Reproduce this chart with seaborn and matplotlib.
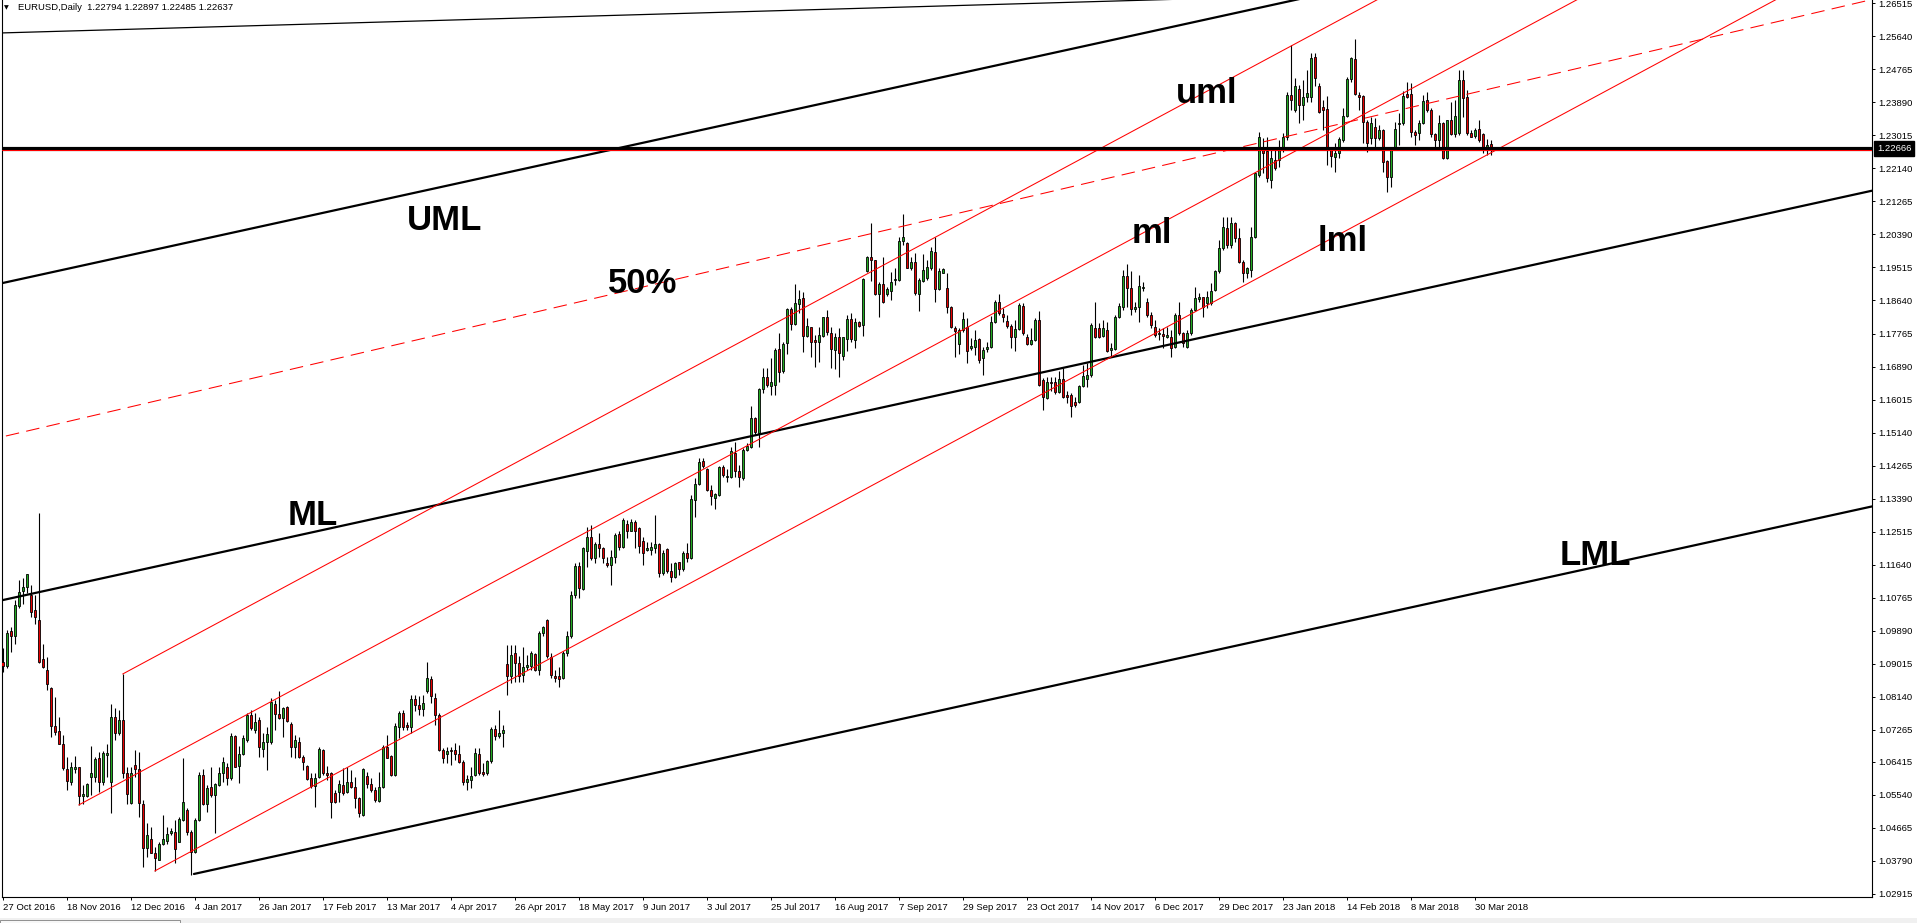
import numpy as np
import pandas as pd
import matplotlib
matplotlib.use("Agg")
import matplotlib.pyplot as plt
from matplotlib.patches import Rectangle
import seaborn as sns

# ---------------- data (EURUSD daily, bar 0 = 27 Oct 2016) ----------------
opens = [
    1.0907, 1.0896, 1.0988, 1.0976, 1.1054, 1.1095, 1.1104, 1.1083, 1.1044, 1.1017,
    1.0914, 1.0886, 1.0836, 1.0737, 1.0723, 1.0688, 1.0622, 1.0589, 1.0623, 1.0627,
    1.0551, 1.0551, 1.0602, 1.0602, 1.0651, 1.0589, 1.0659, 1.0589, 1.0761, 1.0717,
    1.0752, 1.0611, 1.0533, 1.0632, 1.0623, 1.0531, 1.0412, 1.0436, 1.0401, 1.0381,
    1.0424, 1.0433, 1.0452, 1.0456, 1.0430, 1.0487, 1.0514, 1.0455, 1.0403, 1.0487,
    1.0607, 1.0530, 1.0576, 1.0554, 1.0580, 1.0611, 1.0629, 1.0600, 1.0711, 1.0631,
    1.0661, 1.0699, 1.0765, 1.0726, 1.0752, 1.0676, 1.0695, 1.0695, 1.0795, 1.0767,
    1.0757, 1.0788, 1.0743, 1.0680, 1.0695, 1.0655, 1.0631, 1.0598, 1.0577, 1.0602,
    1.0673, 1.0611, 1.0611, 1.0558, 1.0561, 1.0580, 1.0561, 1.0587, 1.0576, 1.0545,
    1.0501, 1.0604, 1.0582, 1.0567, 1.0539, 1.0574, 1.0682, 1.0656, 1.0607, 1.0735,
    1.0770, 1.0740, 1.0735, 1.0808, 1.0793, 1.0782, 1.0828, 1.0861, 1.0810, 1.0766,
    1.0673, 1.0662, 1.0673, 1.0673, 1.0662, 1.0642, 1.0589, 1.0594, 1.0607, 1.0662,
    1.0614, 1.0612, 1.0644, 1.0728, 1.0710, 1.0717, 1.0901, 1.0868, 1.0929, 1.0903,
    1.0872, 1.0894, 1.0896, 1.0927, 1.0885, 1.0984, 1.1018, 1.0919, 1.0869, 1.0869,
    1.0863, 1.0929, 1.0974, 1.1084, 1.1161, 1.1100, 1.1201, 1.1238, 1.1181, 1.1218,
    1.1209, 1.1168, 1.1163, 1.1185, 1.1245, 1.1212, 1.1271, 1.1254, 1.1276, 1.1262,
    1.1227, 1.1203, 1.1203, 1.1207, 1.1218, 1.1141, 1.1205, 1.1146, 1.1130, 1.1170,
    1.1152, 1.1196, 1.1181, 1.1336, 1.1378, 1.1440, 1.1417, 1.1362, 1.1340, 1.1349,
    1.1422, 1.1396, 1.1397, 1.1461, 1.1411, 1.1393, 1.1468, 1.1477, 1.1552, 1.1512,
    1.1629, 1.1660, 1.1638, 1.1640, 1.1736, 1.1676, 1.1751, 1.1842, 1.1801, 1.1854,
    1.1870, 1.1771, 1.1793, 1.1759, 1.1755, 1.1771, 1.1819, 1.1777, 1.1733, 1.1766,
    1.1718, 1.1762, 1.1814, 1.1758, 1.1806, 1.1799, 1.1942, 1.1980, 1.1970, 1.1880,
    1.1907, 1.1880, 1.1890, 1.1917, 1.1917, 1.2022, 1.2015, 1.1951, 1.1965, 1.1881,
    1.1916, 1.1923, 1.1949, 1.1992, 1.1894, 1.1938, 1.1896, 1.1848, 1.1792, 1.1748,
    1.1786, 1.1795, 1.1737, 1.1742, 1.1761, 1.1711, 1.1736, 1.1740, 1.1808, 1.1861,
    1.1828, 1.1810, 1.1796, 1.1766, 1.1788, 1.1849, 1.1766, 1.1748, 1.1759, 1.1812,
    1.1653, 1.1605, 1.1649, 1.1647, 1.1621, 1.1656, 1.1614, 1.1614, 1.1596, 1.1594,
    1.1638, 1.1655, 1.1667, 1.1792, 1.1790, 1.1771, 1.1786, 1.1733, 1.1736, 1.1819,
    1.1848, 1.1929, 1.1896, 1.1841, 1.1846, 1.1896, 1.1861, 1.1826, 1.1795, 1.1775,
    1.1775, 1.1768, 1.1768, 1.1742, 1.1826, 1.1777, 1.1742, 1.1777, 1.1839, 1.1867,
    1.1872, 1.1857, 1.1857, 1.1892, 1.1941, 1.2002, 1.2055, 1.2011, 1.2069, 1.2029,
    1.1967, 1.1936, 1.1945, 1.2031, 1.2197, 1.2267, 1.2261, 1.2183, 1.2236, 1.2236,
    1.2263, 1.2296, 1.2409, 1.2369, 1.2424, 1.2382, 1.2404, 1.2404, 1.2510, 1.2432,
    1.2376, 1.2371, 1.2263, 1.2245, 1.2254, 1.2289, 1.2353, 1.2450, 1.2503, 1.2409,
    1.2406, 1.2336, 1.2294, 1.2323, 1.2294, 1.2316, 1.2234, 1.2192, 1.2267, 1.2331,
    1.2334, 1.2411, 1.2411, 1.2311, 1.2309, 1.2333, 1.2395, 1.2369, 1.2304, 1.2289,
    1.2333, 1.2241, 1.2341, 1.2305, 1.2307, 1.2448, 1.2402, 1.2307, 1.2300, 1.2318,
    1.2304, 1.2270, 1.22794,
]
highs = [
    1.0942, 1.0991, 1.1000, 1.1070, 1.1123, 1.1128, 1.1140, 1.1110, 1.1083, 1.1300,
    1.0955, 1.0920, 1.0841, 1.0814, 1.0761, 1.0713, 1.0655, 1.0642, 1.0657, 1.0629,
    1.0580, 1.0585, 1.0683, 1.0655, 1.0668, 1.0670, 1.0690, 1.0796, 1.0783, 1.0779,
    1.0874, 1.0629, 1.0629, 1.0673, 1.0668, 1.0540, 1.0479, 1.0470, 1.0417, 1.0430,
    1.0501, 1.0470, 1.0465, 1.0487, 1.0496, 1.0651, 1.0518, 1.0461, 1.0492, 1.0615,
    1.0622, 1.0580, 1.0629, 1.0585, 1.0629, 1.0655, 1.0638, 1.0717, 1.0713, 1.0683,
    1.0713, 1.0770, 1.0779, 1.0770, 1.0761, 1.0717, 1.0735, 1.0812, 1.0805, 1.0830,
    1.0788, 1.0789, 1.0748, 1.0713, 1.0708, 1.0660, 1.0633, 1.0611, 1.0611, 1.0682,
    1.0675, 1.0630, 1.0615, 1.0567, 1.0593, 1.0624, 1.0629, 1.0620, 1.0602, 1.0549,
    1.0624, 1.0615, 1.0598, 1.0576, 1.0615, 1.0686, 1.0713, 1.0660, 1.0744, 1.0775,
    1.0779, 1.0748, 1.0819, 1.0819, 1.0815, 1.0819, 1.0905, 1.0868, 1.0825, 1.0770,
    1.0678, 1.0682, 1.0682, 1.0691, 1.0687, 1.0647, 1.0607, 1.0629, 1.0678, 1.0678,
    1.0638, 1.0647, 1.0735, 1.0740, 1.0779, 1.0740, 1.0951, 1.0951, 1.0951, 1.0921,
    1.0947, 1.0925, 1.0934, 1.0929, 1.0989, 1.1002, 1.1019, 1.0929, 1.0885, 1.0894,
    1.0934, 1.0987, 1.1093, 1.1168, 1.1172, 1.1212, 1.1265, 1.1269, 1.1223, 1.1249,
    1.1212, 1.1185, 1.1203, 1.1247, 1.1252, 1.1287, 1.1283, 1.1284, 1.1283, 1.1265,
    1.1238, 1.1225, 1.1223, 1.1296, 1.1221, 1.1203, 1.1207, 1.1168, 1.1170, 1.1172,
    1.1199, 1.1221, 1.1349, 1.1393, 1.1446, 1.1446, 1.1419, 1.1375, 1.1353, 1.1426,
    1.1428, 1.1417, 1.1477, 1.1490, 1.1428, 1.1472, 1.1486, 1.1585, 1.1556, 1.1633,
    1.1684, 1.1684, 1.1711, 1.1737, 1.1777, 1.1755, 1.1843, 1.1848, 1.1909, 1.1892,
    1.1887, 1.1817, 1.1795, 1.1773, 1.1795, 1.1821, 1.1839, 1.1795, 1.1777, 1.1790,
    1.1768, 1.1826, 1.1830, 1.1817, 1.1810, 1.1923, 1.1983, 1.2068, 1.1971, 1.1914,
    1.1980, 1.1901, 1.1940, 1.1949, 1.2031, 1.2092, 1.2020, 1.1980, 1.1989, 1.1923,
    1.1986, 1.1971, 1.2007, 1.2033, 1.1949, 1.1949, 1.1936, 1.1850, 1.1797, 1.1790,
    1.1834, 1.1817, 1.1764, 1.1786, 1.1764, 1.1742, 1.1755, 1.1824, 1.1865, 1.1880,
    1.1843, 1.1826, 1.1803, 1.1812, 1.1857, 1.1857, 1.1774, 1.1792, 1.1817, 1.1836,
    1.1658, 1.1662, 1.1660, 1.1660, 1.1676, 1.1684, 1.1623, 1.1618, 1.1609, 1.1640,
    1.1693, 1.1698, 1.1804, 1.1859, 1.1804, 1.1812, 1.1808, 1.1751, 1.1826, 1.1857,
    1.1945, 1.1960, 1.1941, 1.1861, 1.1932, 1.1914, 1.1870, 1.1834, 1.1812, 1.1790,
    1.1790, 1.1795, 1.1786, 1.1830, 1.1861, 1.1781, 1.1786, 1.1843, 1.1901, 1.1885,
    1.1874, 1.1888, 1.1910, 1.1945, 1.2024, 1.2086, 1.2086, 1.2086, 1.2073, 1.2055,
    1.1971, 1.1954, 1.2060, 1.2205, 1.2311, 1.2294, 1.2298, 1.2263, 1.2263, 1.2289,
    1.2307, 1.2417, 1.2541, 1.2453, 1.2435, 1.2448, 1.2475, 1.2519, 1.2519, 1.2439,
    1.2395, 1.2406, 1.2267, 1.2281, 1.2298, 1.2373, 1.2457, 1.2510, 1.2556, 1.2417,
    1.2409, 1.2342, 1.2351, 1.2347, 1.2329, 1.2318, 1.2236, 1.2272, 1.2338, 1.2360,
    1.2420, 1.2444, 1.2439, 1.2316, 1.2342, 1.2409, 1.2417, 1.2373, 1.2307, 1.2356,
    1.2338, 1.2342, 1.2391, 1.2395, 1.2475, 1.2476, 1.2422, 1.2316, 1.2320, 1.2342,
    1.2307, 1.2292, 1.22897,
]
lows = [
    1.0880, 1.0889, 1.0933, 1.0955, 1.1048, 1.1061, 1.1088, 1.1026, 1.1008, 1.0904,
    1.0889, 1.0832, 1.0708, 1.0713, 1.0688, 1.0620, 1.0567, 1.0580, 1.0611, 1.0527,
    1.0530, 1.0549, 1.0554, 1.0589, 1.0562, 1.0580, 1.0602, 1.0505, 1.0699, 1.0713,
    1.0598, 1.0531, 1.0531, 1.0602, 1.0496, 1.0364, 1.0390, 1.0399, 1.0352, 1.0381,
    1.0421, 1.0423, 1.0448, 1.0373, 1.0430, 1.0486, 1.0448, 1.0342, 1.0399, 1.0486,
    1.0527, 1.0509, 1.0549, 1.0452, 1.0577, 1.0589, 1.0580, 1.0593, 1.0627, 1.0586,
    1.0660, 1.0695, 1.0726, 1.0717, 1.0655, 1.0655, 1.0620, 1.0690, 1.0726, 1.0754,
    1.0708, 1.0748, 1.0655, 1.0653, 1.0651, 1.0620, 1.0593, 1.0571, 1.0521, 1.0600,
    1.0607, 1.0593, 1.0492, 1.0533, 1.0536, 1.0554, 1.0558, 1.0571, 1.0518, 1.0496,
    1.0498, 1.0571, 1.0562, 1.0536, 1.0536, 1.0571, 1.0651, 1.0603, 1.0603, 1.0704,
    1.0726, 1.0726, 1.0717, 1.0775, 1.0766, 1.0762, 1.0823, 1.0797, 1.0740, 1.0669,
    1.0638, 1.0638, 1.0634, 1.0647, 1.0638, 1.0581, 1.0567, 1.0572, 1.0605, 1.0607,
    1.0605, 1.0607, 1.0638, 1.0700, 1.0704, 1.0682, 1.0819, 1.0850, 1.0854, 1.0854,
    1.0854, 1.0885, 1.0885, 1.0881, 1.0872, 1.0974, 1.0916, 1.0863, 1.0854, 1.0841,
    1.0861, 1.0921, 1.0969, 1.1075, 1.1075, 1.1097, 1.1159, 1.1177, 1.1168, 1.1185,
    1.1168, 1.1159, 1.1110, 1.1168, 1.1203, 1.1208, 1.1234, 1.1252, 1.1208, 1.1194,
    1.1163, 1.1199, 1.1190, 1.1194, 1.1132, 1.1137, 1.1141, 1.1117, 1.1128, 1.1137,
    1.1146, 1.1172, 1.1178, 1.1290, 1.1375, 1.1419, 1.1358, 1.1322, 1.1311, 1.1346,
    1.1397, 1.1384, 1.1393, 1.1397, 1.1369, 1.1389, 1.1464, 1.1472, 1.1508, 1.1477,
    1.1618, 1.1636, 1.1614, 1.1614, 1.1649, 1.1671, 1.1721, 1.1786, 1.1799, 1.1830,
    1.1727, 1.1768, 1.1713, 1.1689, 1.1702, 1.1768, 1.1773, 1.1686, 1.1683, 1.1662,
    1.1706, 1.1729, 1.1755, 1.1739, 1.1795, 1.1771, 1.1940, 1.1916, 1.1879, 1.1821,
    1.1857, 1.1876, 1.1865, 1.1905, 1.1916, 1.2011, 1.1949, 1.1945, 1.1879, 1.1837,
    1.1914, 1.1918, 1.1945, 1.1861, 1.1892, 1.1936, 1.1830, 1.1790, 1.1715, 1.1721,
    1.1781, 1.1698, 1.1733, 1.1720, 1.1698, 1.1667, 1.1728, 1.1739, 1.1804, 1.1826,
    1.1808, 1.1790, 1.1739, 1.1730, 1.1786, 1.1773, 1.1746, 1.1746, 1.1757, 1.1638,
    1.1574, 1.1603, 1.1623, 1.1615, 1.1618, 1.1605, 1.1592, 1.1556, 1.1583, 1.1592,
    1.1636, 1.1636, 1.1662, 1.1764, 1.1764, 1.1768, 1.1728, 1.1713, 1.1733, 1.1817,
    1.1839, 1.1848, 1.1826, 1.1834, 1.1808, 1.1888, 1.1821, 1.1790, 1.1768, 1.1759,
    1.1737, 1.1764, 1.1715, 1.1737, 1.1773, 1.1742, 1.1737, 1.1773, 1.1835, 1.1861,
    1.1821, 1.1843, 1.1852, 1.1888, 1.1936, 1.1998, 1.2002, 1.2002, 1.2020, 1.1963,
    1.1914, 1.1923, 1.1927, 1.2029, 1.2192, 1.2201, 1.2179, 1.2161, 1.2210, 1.2219,
    1.2258, 1.2289, 1.2369, 1.2364, 1.2333, 1.2342, 1.2391, 1.2391, 1.2431, 1.2360,
    1.2316, 1.2223, 1.2219, 1.2205, 1.2241, 1.2285, 1.2351, 1.2444, 1.2408, 1.2369,
    1.2280, 1.2258, 1.2279, 1.2272, 1.2289, 1.2205, 1.2152, 1.2166, 1.2263, 1.2276,
    1.2329, 1.2400, 1.2298, 1.2276, 1.2289, 1.2332, 1.2364, 1.2298, 1.2263, 1.2263,
    1.2238, 1.2238, 1.2302, 1.2298, 1.2303, 1.2351, 1.2303, 1.2296, 1.2294, 1.2285,
    1.2254, 1.2250, 1.22485,
]
closes = [
    1.0896, 1.0982, 1.0976, 1.1057, 1.1092, 1.1104, 1.1138, 1.1039, 1.1024, 1.0907,
    1.0894, 1.0847, 1.0737, 1.0721, 1.0690, 1.0624, 1.0591, 1.0627, 1.0629, 1.0551,
    1.0555, 1.0582, 1.0611, 1.0648, 1.0589, 1.0664, 1.0664, 1.0761, 1.0717, 1.0752,
    1.0611, 1.0555, 1.0611, 1.0623, 1.0533, 1.0412, 1.0448, 1.0401, 1.0388, 1.0424,
    1.0436, 1.0450, 1.0458, 1.0410, 1.0489, 1.0534, 1.0456, 1.0403, 1.0487, 1.0607,
    1.0531, 1.0571, 1.0554, 1.0582, 1.0611, 1.0640, 1.0600, 1.0711, 1.0629, 1.0661,
    1.0704, 1.0765, 1.0730, 1.0748, 1.0680, 1.0695, 1.0714, 1.0799, 1.0767, 1.0757,
    1.0783, 1.0750, 1.0682, 1.0699, 1.0655, 1.0640, 1.0596, 1.0578, 1.0598, 1.0676,
    1.0611, 1.0607, 1.0534, 1.0536, 1.0583, 1.0558, 1.0587, 1.0576, 1.0545, 1.0505,
    1.0622, 1.0582, 1.0567, 1.0540, 1.0576, 1.0682, 1.0653, 1.0607, 1.0737, 1.0772,
    1.0735, 1.0735, 1.0808, 1.0793, 1.0782, 1.0797, 1.0863, 1.0815, 1.0766, 1.0673,
    1.0651, 1.0671, 1.0669, 1.0662, 1.0642, 1.0589, 1.0596, 1.0604, 1.0665, 1.0612,
    1.0609, 1.0644, 1.0728, 1.0709, 1.0717, 1.0726, 1.0868, 1.0925, 1.0903, 1.0868,
    1.0894, 1.0898, 1.0931, 1.0885, 1.0984, 1.0998, 1.0921, 1.0872, 1.0865, 1.0861,
    1.0929, 1.0974, 1.1084, 1.1161, 1.1102, 1.1209, 1.1238, 1.1181, 1.1219, 1.1209,
    1.1181, 1.1163, 1.1185, 1.1243, 1.1212, 1.1283, 1.1254, 1.1276, 1.1254, 1.1214,
    1.1194, 1.1209, 1.1212, 1.1218, 1.1143, 1.1194, 1.1146, 1.1132, 1.1168, 1.1152,
    1.1194, 1.1181, 1.1337, 1.1378, 1.1437, 1.1426, 1.1362, 1.1346, 1.1351, 1.1422,
    1.1402, 1.1399, 1.1466, 1.1411, 1.1397, 1.1468, 1.1479, 1.1552, 1.1515, 1.1630,
    1.1662, 1.1640, 1.1647, 1.1733, 1.1674, 1.1748, 1.1842, 1.1801, 1.1857, 1.1868,
    1.1771, 1.1797, 1.1753, 1.1753, 1.1773, 1.1819, 1.1780, 1.1735, 1.1766, 1.1724,
    1.1766, 1.1814, 1.1762, 1.1806, 1.1797, 1.1921, 1.1978, 1.1971, 1.1881, 1.1907,
    1.1859, 1.1894, 1.1912, 1.1920, 1.2022, 1.2033, 1.1951, 1.1967, 1.1885, 1.1918,
    1.1945, 1.1954, 1.1995, 1.1894, 1.1942, 1.1947, 1.1848, 1.1793, 1.1783, 1.1786,
    1.1815, 1.1730, 1.1744, 1.1758, 1.1706, 1.1733, 1.1740, 1.1808, 1.1861, 1.1830,
    1.1819, 1.1796, 1.1766, 1.1788, 1.1852, 1.1777, 1.1748, 1.1759, 1.1812, 1.1640,
    1.1608, 1.1649, 1.1645, 1.1621, 1.1656, 1.1608, 1.1609, 1.1585, 1.1587, 1.1638,
    1.1664, 1.1667, 1.1799, 1.1768, 1.1766, 1.1792, 1.1731, 1.1739, 1.1821, 1.1850,
    1.1929, 1.1896, 1.1841, 1.1848, 1.1903, 1.1901, 1.1826, 1.1799, 1.1773, 1.1779,
    1.1770, 1.1773, 1.1737, 1.1826, 1.1777, 1.1751, 1.1777, 1.1839, 1.1870, 1.1872,
    1.1848, 1.1874, 1.1888, 1.1941, 1.2002, 1.2058, 1.2011, 1.2069, 1.2029, 1.1967,
    1.1936, 1.1949, 1.2033, 1.2201, 1.2298, 1.2256, 1.2188, 1.2241, 1.2214, 1.2267,
    1.2298, 1.2409, 1.2395, 1.2431, 1.2382, 1.2404, 1.2413, 1.2506, 1.2453, 1.2364,
    1.2369, 1.2267, 1.2247, 1.2254, 1.2292, 1.2353, 1.2450, 1.2506, 1.2410, 1.2402,
    1.2338, 1.2282, 1.2333, 1.2294, 1.2316, 1.2232, 1.2192, 1.2267, 1.2318, 1.2334,
    1.2406, 1.2404, 1.2311, 1.2303, 1.2333, 1.2393, 1.2369, 1.2304, 1.2289, 1.2333,
    1.2241, 1.2341, 1.2305, 1.2353, 1.2448, 1.2400, 1.2307, 1.2298, 1.2316, 1.2288,
    1.2272, 1.2276, 1.22637,
]

x_tick_bars = [0, 16, 32, 48, 64, 80, 96, 112, 128, 144, 160, 176,
               192, 208, 224, 240, 256, 272, 288, 304, 320, 336, 352, 368]
x_tick_labels = ["27 Oct 2016", "18 Nov 2016", "12 Dec 2016", "4 Jan 2017",
                 "26 Jan 2017", "17 Feb 2017", "13 Mar 2017", "4 Apr 2017",
                 "26 Apr 2017", "18 May 2017", "9 Jun 2017", "3 Jul 2017",
                 "25 Jul 2017", "16 Aug 2017", "7 Sep 2017", "29 Sep 2017",
                 "23 Oct 2017", "14 Nov 2017", "6 Dec 2017", "29 Dec 2017",
                 "23 Jan 2018", "14 Feb 2018", "8 Mar 2018", "30 Mar 2018"]
y_tick_labels = ["1.26515", "1.25640", "1.24765", "1.23890", "1.23015", "1.22140",
                 "1.21265", "1.20390", "1.19515", "1.18640", "1.17765", "1.16890",
                 "1.16015", "1.15140", "1.14265", "1.13390", "1.12515", "1.11640",
                 "1.10765", "1.09890", "1.09015", "1.08140", "1.07265", "1.06415",
                 "1.05540", "1.04665", "1.03790", "1.02915"]

# drawing objects: anchor points (bar index, price)
black_ml_bars, black_ml_prices = [-0.7, 467.3], [1.10685, 1.21549]
black_uml_bars, black_uml_prices = [-0.7, 467.3], [1.19087, 1.29951]
black_lml_bars, black_lml_prices = [47.8, 467.3], [1.03444, 1.13183]
black_top_bars, black_top_prices = [-0.7, 310.0], [1.25728, 1.26672]
red_uml_bars, red_uml_prices = [30.0, 467.3], [1.08743, 1.33656]
red_ml_bars, red_ml_prices = [19.0, 467.3], [1.05272, 1.30811]
red_lml_bars, red_lml_prices = [38.0, 467.3], [1.03523, 1.27980]
red_half_bars, red_half_prices = [0.8, 467.3], [1.15049, 1.26615]
hline_price = 1.22666
bid_price = 1.22637
header_text = "EURUSD,Daily  1.22794 1.22897 1.22485 1.22637"
label_texts = ["UML", "50%", "ML", "uml", "ml", "lml", "LML"]
label_bars = [101.1, 151.3, 71.3, 293.3, 282.1, 328.6, 389.1]
label_prices = [1.20510, 1.18838, 1.12691, 1.23873, 1.20163, 1.19951, 1.11630]

# ---------------- figure ----------------
sns.set_style("white")
plt.rcParams["font.family"] = ["Liberation Sans", "DejaVu Sans"]

W, H = 1917, 923
fig = plt.figure(figsize=(W / 100, H / 100), dpi=100)
fig.patch.set_facecolor("white")
ax_l, ax_r, ax_t, ax_b = 2, 1872, 0, 897
ax = fig.add_axes([ax_l / W, (H - ax_b) / H, (ax_r - ax_l) / W, (ax_b - ax_t) / H])
ax.set_facecolor("white")

n = min(len(opens), len(highs), len(lows), len(closes))
df = pd.DataFrame({"open": opens[:n], "high": highs[:n], "low": lows[:n], "close": closes[:n]})
df["bar"] = np.arange(n)
up = df["close"] >= df["open"]
GREEN, RED = "#22aa22", "#e60000"

ax.vlines(df["bar"], df["low"], df["high"], color="black", linewidth=0.8, zorder=2)
body_bottom = np.minimum(df["open"], df["close"])
body_height = np.abs(df["close"] - df["open"])
ax.bar(df["bar"], body_height, bottom=body_bottom, width=0.6,
       color=np.where(up, GREEN, RED), edgecolor="black", linewidth=0.6, zorder=3)

# trend lines (seaborn)
def seg(bars, prices, color, lw, z=4):
    sns.lineplot(x=bars, y=prices, ax=ax, color=color, linewidth=lw, zorder=z,
                 legend=False, estimator=None, sort=False)

seg(black_ml_bars, black_ml_prices, "black", 1.6)
seg(black_uml_bars, black_uml_prices, "black", 1.6)
seg(black_lml_bars, black_lml_prices, "black", 1.6)
seg(black_top_bars, black_top_prices, "black", 0.9)
seg(red_uml_bars, red_uml_prices, "#ff0000", 0.75)
seg(red_ml_bars, red_ml_prices, "#ff0000", 0.75)
seg(red_lml_bars, red_lml_prices, "#ff0000", 0.75)
ax.plot(red_half_bars, red_half_prices, color="#ff0000", linewidth=0.75,
        linestyle=(0, (13, 7)), zorder=4)

ax.axhline(hline_price, color="black", linewidth=3.0, zorder=5)
ax.axhline(bid_price, color="#ff0000", linewidth=0.75, zorder=6)

for t, b, p in zip(label_texts, label_bars, label_prices):
    ax.text(b, p, t, fontsize=25, fontweight="bold", color="black",
            ha="left", va="baseline", zorder=7, family=["Liberation Sans", "DejaVu Sans"])

ax.set_xlim(-0.175, 467.3)
ax.set_ylim(1.02834, 1.26602)
ax.set_xlabel("")
ax.set_ylabel("")

# axes styling (MetaTrader look)
for s in ["left", "right", "bottom"]:
    ax.spines[s].set_visible(True)
    ax.spines[s].set_color("black")
    ax.spines[s].set_linewidth(0.8)
ax.spines["top"].set_visible(False)

ax.yaxis.tick_right()
ax.set_yticks([float(v) for v in y_tick_labels])
ax.set_yticklabels(y_tick_labels)
ax.tick_params(axis="y", which="both", direction="out", length=2.5, width=0.7,
               pad=2.0, labelsize=6.8, colors="black", left=False, right=True)
ax.set_xticks(x_tick_bars)
ax.set_xticklabels(x_tick_labels)
ax.tick_params(axis="x", which="both", direction="out", length=2.5, width=0.7,
               pad=1.5, labelsize=6.8, colors="black", bottom=True, top=False)
for lab in ax.get_xticklabels():
    lab.set_ha("left")

# current price box on the right scale
ax.annotate(f"{hline_price:.5f}", xy=(1.0, hline_price), xycoords=("axes fraction", "data"),
            xytext=(5, 0), textcoords="offset pixels", ha="left", va="center",
            fontsize=6.8, color="white", zorder=10, annotation_clip=False,
            bbox=dict(boxstyle="square,pad=0.3", fc="black", ec="black"))

# header
fig.text(4 / W, 1 - 9 / H, "\u25BC", fontsize=4.5, family="DejaVu Sans",
         va="baseline", ha="left", color="black")
fig.text(18 / W, 1 - 9.5 / H, header_text, fontsize=6.8, va="baseline",
         ha="left", color="black")

# window tab strip at the very bottom
fig.patches.append(Rectangle((0, 0), 1, 5 / H, transform=fig.transFigure,
                             facecolor="#f0f0f0", edgecolor="none", zorder=0))
fig.patches.append(Rectangle((0, 0), 180 / W, 3 / H, transform=fig.transFigure,
                             facecolor="#f7f7f7", edgecolor="#808080", linewidth=0.6, zorder=1))

fig.savefig("out.png", dpi=100)
